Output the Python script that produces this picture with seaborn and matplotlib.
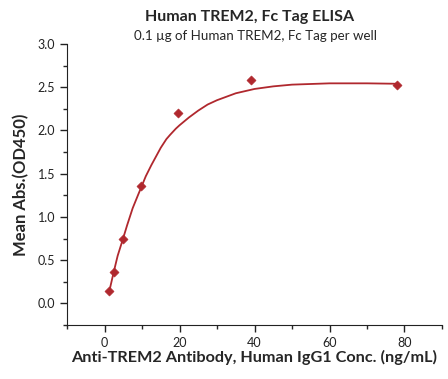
import matplotlib
matplotlib.use("Agg")
import matplotlib.pyplot as plt
import seaborn as sns
import pandas as pd
from matplotlib.ticker import MultipleLocator

# measured points (ng/mL, OD450)
conc = [1.22, 2.44, 4.88, 9.77, 19.53, 39.06, 78.13]
od450 = [0.14, 0.36, 0.75, 1.36, 2.20, 2.58, 2.53]

# fitted curve
curve_x = [1.22, 2.44, 3.5, 4.88, 6, 7.5, 9, 9.77, 11, 12.5, 14, 15, 16.5, 17.5, 19, 20,
           22.5, 25, 27.5, 30, 35, 40, 45, 50, 60, 70, 78.13]
curve_y = [0.13, 0.36, 0.55, 0.74, 0.90, 1.10, 1.26, 1.34, 1.47, 1.60, 1.72, 1.80, 1.90, 1.95,
           2.02, 2.06, 2.15, 2.23, 2.30, 2.35, 2.43, 2.48, 2.51, 2.53, 2.545, 2.545, 2.54]

points = pd.DataFrame({'conc': conc, 'od': od450})
curve = pd.DataFrame({'conc': curve_x, 'od': curve_y})

red = '#B0282E'

sns.set_style('ticks')
plt.rcParams['font.family'] = ['Lato', 'DejaVu Sans']

fig = plt.figure(figsize=(4.48, 3.79), dpi=100)
ax = fig.add_axes([0.1496, 0.1425, 0.837, 0.7414])

sns.lineplot(data=curve, x='conc', y='od', color=red, linewidth=1.3, ax=ax)
sns.scatterplot(data=points, x='conc', y='od', color=red, marker='D', s=22,
                edgecolor=red, zorder=5, ax=ax)

ax.set_xlim(-10, 90)
ax.set_ylim(-0.25, 3.0)
ax.xaxis.set_major_locator(MultipleLocator(20))
ax.xaxis.set_minor_locator(MultipleLocator(10))
ax.yaxis.set_major_locator(MultipleLocator(0.5))
ax.yaxis.set_minor_locator(MultipleLocator(0.25))
ax.set_yticks([0.0, 0.5, 1.0, 1.5, 2.0, 2.5, 3.0])
ax.set_yticklabels(['0.0', '0.5', '1.0', '1.5', '2.0', '2.5', '3.0'])
ax.set_xticks([0, 20, 40, 60, 80])
ax.tick_params(axis='both', which='major', length=5, width=1, labelsize=9, colors='#222222')
ax.tick_params(axis='both', which='minor', length=3, width=1)
sns.despine(ax=ax)
for s in ['left', 'bottom']:
    ax.spines[s].set_color('#222222')

ax.set_xlabel('Anti-TREM2 Antibody, Human IgG1 Conc. (ng/mL)', fontsize=11.7,
              fontweight='bold', labelpad=1)
ax.set_ylabel('Mean Abs.(OD450)', fontsize=12, fontweight='bold', labelpad=6)

fig.text(0.558, 0.955, 'Human TREM2, Fc Tag ELISA', ha='center', va='center',
         fontsize=11.5, fontweight='bold')
fig.text(0.57, 0.905, '0.1 µg of Human TREM2, Fc Tag per well', ha='center',
         va='center', fontsize=9.6)

fig.savefig('out.png', dpi=100)
